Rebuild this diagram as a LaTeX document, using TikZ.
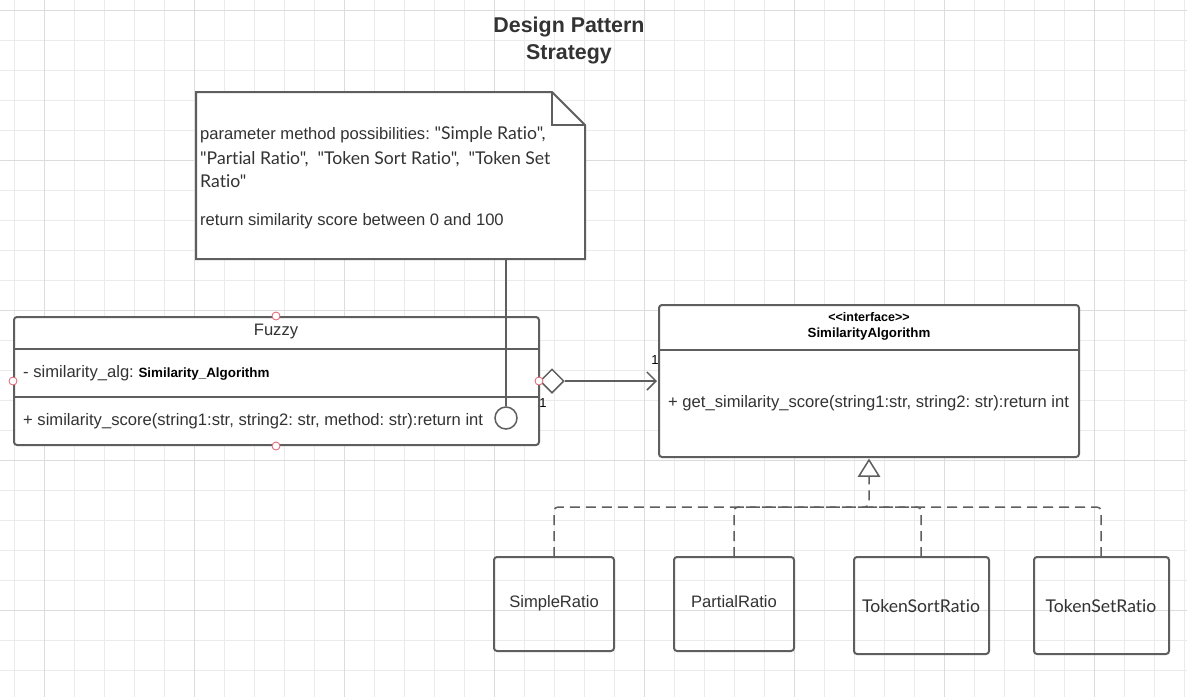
\documentclass[tikz,border=0pt]{standalone}
\usepackage{fontspec}
\setmainfont{Liberation Sans}
\newfontfamily\humfont[Ligatures={NoCommon,NoDiscretionary,NoRare}]{Lato}
\usetikzlibrary{arrows.meta,shapes.geometric}
\definecolor{linec}{HTML}{5E5E5E}
\definecolor{txtc}{HTML}{333333}
\definecolor{gridmin}{HTML}{EBEBEB}
\definecolor{gridmaj}{HTML}{DCDCDC}
\definecolor{ptred}{HTML}{E06070}
\frenchspacing
\begin{document}
\begin{tikzpicture}[x=1pt,y=-1pt,
  box/.style={draw=linec,line width=2pt,rounded corners=3pt},
  thin/.style={draw=linec,line width=1.5pt},
  txt/.style={inner sep=0pt,text=txtc,font=\fontsize{16.6}{19}\selectfont},
  hum/.style={inner sep=0pt,text=txtc,font=\humfont\fontsize{17.6}{20}\selectfont},
  cpt/.style={circle,draw=ptred,fill=white,line width=0.8pt,minimum size=8pt,inner sep=0pt},
  dsh/.style={draw=linec,line width=1.5pt,dash pattern=on 10pt off 6pt,rounded corners=4pt}
]
\useasboundingbox (0,0) rectangle (1187,697);
\fill[white] (0,0) rectangle (1187,697);
% grid
\foreach \i in {0,...,39} \draw[gridmin,line width=1pt] ({14.7+30*\i},0) -- ({14.7+30*\i},697);
\foreach \j in {0,...,23} \draw[gridmin,line width=1pt] (0,{10.7+30*\j}) -- (1187,{10.7+30*\j});
\foreach \i in {0,...,7} \draw[gridmaj,line width=1pt] ({44.7+150*\i},0) -- ({44.7+150*\i},697);
\foreach \j in {0,...,4} \draw[gridmaj,line width=1pt] (0,{10.7+150*\j}) -- (1187,{10.7+150*\j});

% title
\node[inner sep=0pt,text=txtc,font=\bfseries\fontsize{21.4}{26.5}\selectfont,align=center] (title) at (569,40.5) {Design Pattern\\Strategy};

% note
\coordinate (nA) at (196,92);
\coordinate (nB) at (552,92);
\coordinate (nC) at (585,125);
\coordinate (nD) at (585,259);
\coordinate (nE) at (196,259);
\draw[draw=linec,line width=2pt,fill=white,line join=miter] (nA) -- (nB) -- (nC) -- (nD) -- (nE) -- cycle;
\draw[draw=linec,line width=2pt] (nB) -- (552,125) -- (nC);
\node[txt,anchor=base west] (n1) at (200,139) {parameter method possibilities: {\humfont\fontsize{17.6}{20}\selectfont"Simple Ratio",}};
\node[hum,anchor=base west] (n2) at (200,164) {"Partial Ratio",~ "Token Sort Ratio",~ "Token Set};
\node[hum,anchor=base west] (n3) at (200,187) {Ratio"};
\node[txt,anchor=base west] (n4) at (200,225) {return similarity score between 0 and 100};
\coordinate (notebot) at (506,259);

% Fuzzy class
\draw[box,fill=white] (14,317) rectangle (539,445);
\draw[draw=linec,line width=2pt] (14,349) -- (539,349);
\draw[draw=linec,line width=2pt] (14,397) -- (539,397);
\node[txt] (fuzzy) at (276,332) {Fuzzy};
\node[txt,anchor=base west] (fattr) at (23,377) {- similarity\_alg: {\bfseries\fontsize{13.4}{15}\selectfont\color{black}Similarity\_Algorithm}};
\node[txt,anchor=base west] (fmeth) at (23,425) {+ similarity\_score(string1:str, string2: str, method: str):return int};
\node[circle,draw=linec,line width=1.5pt,fill=white,minimum size=22pt,inner sep=0pt] (lolly) at (506,418) {};
\draw[thin] (notebot) -- (lolly.north);

% connection points
\node[cpt] (p1) at (276,316) {};
\node[cpt] (p2) at (13,381) {};
\node[cpt] (p3) at (276,446) {};

% interface
\draw[box,fill=white] (659,305) rectangle (1079,457);
\draw[draw=linec,line width=2pt] (659,350) -- (1079,350);
\node[inner sep=0pt,font=\bfseries\fontsize{12.5}{14}\selectfont] (stereo) at (869,317.5) {{<}{<}interface{>}{>}};
\node[inner sep=0pt,font=\bfseries\fontsize{13.3}{15}\selectfont] (iname) at (869,334) {SimilarityAlgorithm};
\node[txt,anchor=base west] (imeth) at (668,407) {+ get\_similarity\_score(string1:str, string2: str):return int};
\coordinate (ileft) at (657,381);

% aggregation
\node[diamond,draw=linec,line width=1.5pt,fill=white,minimum width=24pt,minimum height=24pt,inner sep=0pt] (dia) at (552,381) {};
\draw[thin,-{Straight Barb[length=9pt,width=18pt,line width=1.5pt]}] (dia.east) -- (ileft);
\node[cpt] (p4) at (539,381) {};
\node[txt,font=\fontsize{13}{15}\selectfont,text=black] (m1) at (543,403) {1};
\node[txt,font=\fontsize{13}{15}\selectfont,text=black] (m2) at (655,360) {1};

% implementations
\node[box,minimum width=120pt,minimum height=94pt,inner sep=0pt] (c1) at (554,604) {};
\node[box,minimum width=120pt,minimum height=94pt,inner sep=0pt] (c2) at (734,604) {};
\node[box,minimum width=135pt,minimum height=97pt,inner sep=0pt] (c3) at (921.5,605.5) {};
\node[box,minimum width=135pt,minimum height=97pt,inner sep=0pt] (c4) at (1101.5,605.5) {};
\node[txt] (t1) at (554,603) {SimpleRatio};
\node[txt] (t2) at (734,602) {PartialRatio};
\node[hum] (t3) at (921,606) {TokenSortRatio};
\node[hum] (t4) at (1101,606) {TokenSetRatio};

% realization
\coordinate (tri) at (869,476);
\draw[dsh] (554,557) -- (554,507) -- (869,507) -- (tri);
\draw[dsh] (734,557) -- (734,507) -- (869,507);
\draw[dsh] (921,557) -- (921,507) -- (869,507);
\draw[dsh] (1101,557) -- (1101,507) -- (869,507);
\draw[draw=linec,line width=1.5pt,fill=white,line join=miter] (869,460) -- (879,476) -- (859,476) -- cycle;
\end{tikzpicture}
\end{document}
